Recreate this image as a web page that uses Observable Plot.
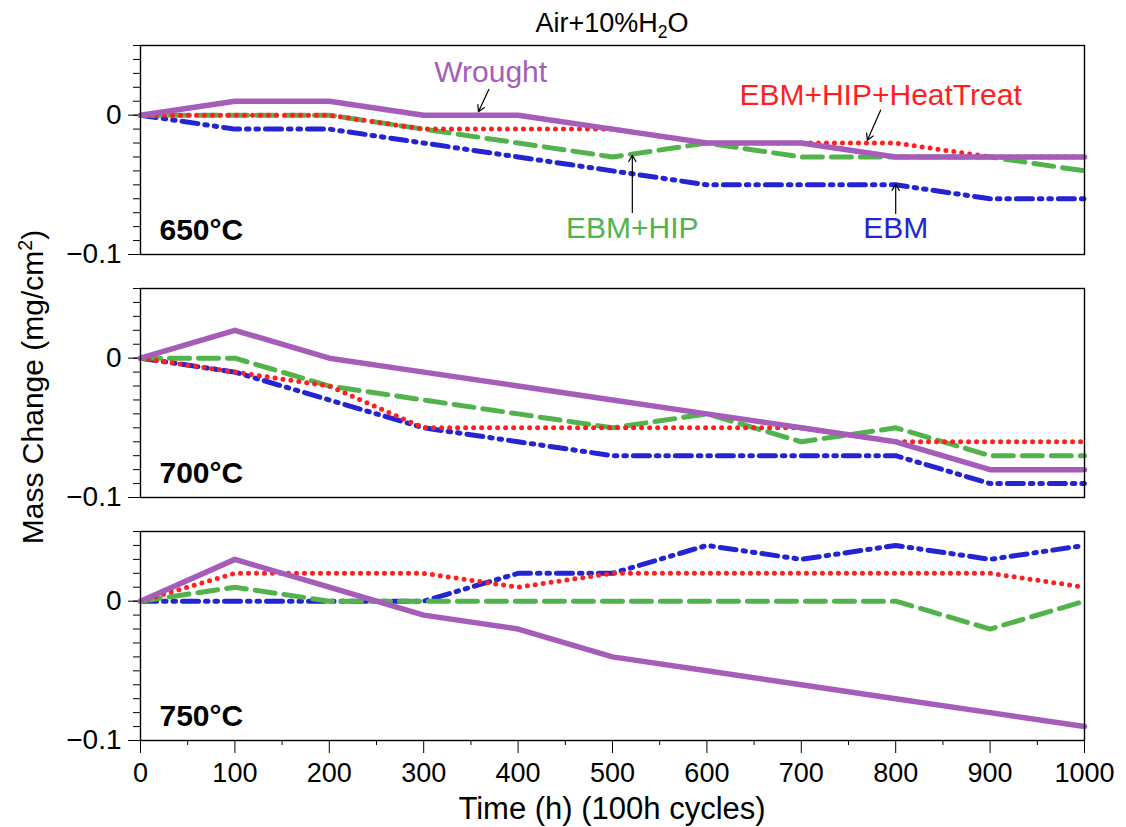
<!DOCTYPE html>
<html><head><meta charset="utf-8">
<script src="https://cdn.jsdelivr.net/npm/d3@7"></script>
<script src="https://cdn.jsdelivr.net/npm/@observablehq/plot@0.6"></script>
<style>
body{margin:0;background:#fff;font-family:"Liberation Sans",Arial,Helvetica,sans-serif;}
#wrap{position:relative;width:1126px;height:827px;overflow:hidden;}
.lbl{position:absolute;color:#000;white-space:nowrap;line-height:1;}
sub,sup{font-size:65%;line-height:0;}
</style></head><body>
<div id="wrap">
  <div id="chart"></div>
  <div class="lbl" style="left:312px;width:600px;text-align:center;top:10px;font-size:27px;">Air+10%H<sub>2</sub>O</div>
  <div class="lbl" style="left:33px;top:387px;font-size:30px;transform:translate(-50%,-50%) rotate(-90deg);">Mass Change (mg/cm<sup>2</sup>)</div>
  <div class="lbl" style="left:312px;width:600px;text-align:center;top:793px;font-size:31px;">Time (h) (100h cycles)</div>
</div>
<script>
const times = [0, 100, 200, 300, 400, 500, 600, 700, 800, 900, 1000];
const temps = ["650°C", "700°C", "750°C"];
const series = ["EBM", "EBM+HIP", "EBM+HIP+HeatTreat", "Wrought"];

// 650°C
const wrought650 = [0, 0.01, 0.01, 0, 0, -0.01, -0.02, -0.02, -0.03, -0.03, -0.03];
const heatTreat650 = [0, 0, 0, -0.01, -0.01, -0.01, -0.02, -0.02, -0.02, -0.03, -0.03];
const hip650 = [0, 0, 0, -0.01, -0.02, -0.03, -0.02, -0.03, -0.03, -0.03, -0.04];
const ebm650 = [0, -0.01, -0.01, -0.02, -0.03, -0.04, -0.05, -0.05, -0.05, -0.06, -0.06];
// 700°C
const wrought700 = [0, 0.02, 0, -0.01, -0.02, -0.03, -0.04, -0.05, -0.06, -0.08, -0.08];
const heatTreat700 = [0, -0.01, -0.02, -0.05, -0.05, -0.05, -0.05, -0.05, -0.06, -0.06, -0.06];
const hip700 = [0, 0, -0.02, -0.03, -0.04, -0.05, -0.04, -0.06, -0.05, -0.07, -0.07];
const ebm700 = [0, -0.01, -0.03, -0.05, -0.06, -0.07, -0.07, -0.07, -0.07, -0.09, -0.09];
// 750°C
const wrought750 = [0, 0.03, 0.01, -0.01, -0.02, -0.04, -0.05, -0.06, -0.07, -0.08, -0.09];
const heatTreat750 = [0, 0.02, 0.02, 0.02, 0.01, 0.02, 0.02, 0.02, 0.02, 0.02, 0.01];
const hip750 = [0, 0.01, 0, 0, 0, 0, 0, 0, 0, -0.02, 0];
const ebm750 = [0, 0, 0, 0, 0.02, 0.02, 0.04, 0.03, 0.04, 0.03, 0.04];

const yTickLabels = [-0.1, 0];
const xTickLabels = [0, 100, 200, 300, 400, 500, 600, 700, 800, 900, 1000];

// annotation labels (top panel)
const annoLabels = ["Wrought", "EBM+HIP+HeatTreat", "EBM+HIP", "EBM"];
const annoX = [371, 784, 521, 800];
const annoY = [0.031, 0.0144, -0.0813, -0.0813];
const arrowFromX = [369, 784, 521, 800];
const arrowFromY = [0.0185, 0.0036, -0.0698, -0.0705];
const arrowToX = [358, 770, 521, 800];
const arrowToY = [0.0025, -0.018, -0.0288, -0.0495];

const values = {
  "650°C": {"Wrought": wrought650, "EBM+HIP+HeatTreat": heatTreat650, "EBM+HIP": hip650, "EBM": ebm650},
  "700°C": {"Wrought": wrought700, "EBM+HIP+HeatTreat": heatTreat700, "EBM+HIP": hip700, "EBM": ebm700},
  "750°C": {"Wrought": wrought750, "EBM+HIP+HeatTreat": heatTreat750, "EBM+HIP": hip750, "EBM": ebm750}
};
const rows = [];
for (const t of temps) for (const s of series) times.forEach((x, i) => rows.push({temp: t, series: s, time: x, value: values[t][s][i]}));

const colors = {"Wrought": "#a65db9", "EBM+HIP+HeatTreat": "#ff1f1f", "EBM+HIP": "#52b24c", "EBM": "#2424d2"};
const lineStyle = {
  "Wrought": {strokeWidth: 5.5},
  "EBM+HIP+HeatTreat": {strokeWidth: 5, strokeDasharray: "0,8", strokeLinecap: "round"},
  "EBM+HIP": {strokeWidth: 5, strokeDasharray: "20,9"},
  "EBM": {strokeWidth: 5, strokeDasharray: "16,7,2.5,7,2.5,7"}
};

const anno = annoLabels.map((l, i) => ({temp: "650°C", label: l, x: annoX[i], y: annoY[i], color: colors[l]}));
const arrows = annoLabels.map((l, i) => ({temp: "650°C", x1: arrowFromX[i], y1: arrowFromY[i], x2: arrowToX[i], y2: arrowToY[i]}));

const fmtY = d => d === 0 ? "0" : "\u2212" + Math.abs(d);

const plot = Plot.plot({
  width: 1126, height: 827,
  marginLeft: 140, marginRight: 42, marginTop: 45, marginBottom: 87,
  x: {domain: [0, 1000]},
  y: {domain: [-0.1, 0.05]},
  fy: {domain: temps, paddingInner: 0.14, paddingOuter: 0, axis: null},
  style: {fontFamily: "Liberation Sans, Arial, Helvetica, sans-serif", fontSize: "27px", color: "#000", background: "#fff"},
  marks: [
    Plot.axisY({ticks: d3.range(-10, 6).map(d => d / 100), tickSize: 7, fill: null, label: null}),
    Plot.axisY({ticks: yTickLabels, tickSize: 12, tickPadding: 7, tickFormat: fmtY, label: null, fontSize: 28}),
    Plot.axisX({ticks: d3.range(50, 1000, 100), tickSize: 5, fill: null, label: null}),
    Plot.axisX({ticks: xTickLabels, tickSize: 13, tickPadding: 9, tickFormat: d => String(d), label: null, fontSize: 27}),
    ...series.map(s => Plot.line(rows.filter(r => r.series === s), {
      x: "time", y: "value", fy: "temp", stroke: colors[s], ...lineStyle[s]
    })),
    Plot.frame({stroke: "#000", strokeWidth: 1.4}),
    Plot.text(temps, {fy: d => d, text: d => d, frameAnchor: "bottom-left", textAnchor: "start", lineAnchor: "bottom", dx: 19, dy: -15, fontWeight: "bold", fontSize: 30}),
    Plot.text(anno, {x: "x", y: "y", fy: "temp", text: "label", fill: d => d.color, fontSize: 30, lineAnchor: "middle"}),
    Plot.arrow(arrows, {x1: "x1", y1: "y1", x2: "x2", y2: "y2", fy: "temp", stroke: "#000", strokeWidth: 1.2, headLength: 9})
  ]
});
document.getElementById("chart").appendChild(plot);
</script>
</body></html>
